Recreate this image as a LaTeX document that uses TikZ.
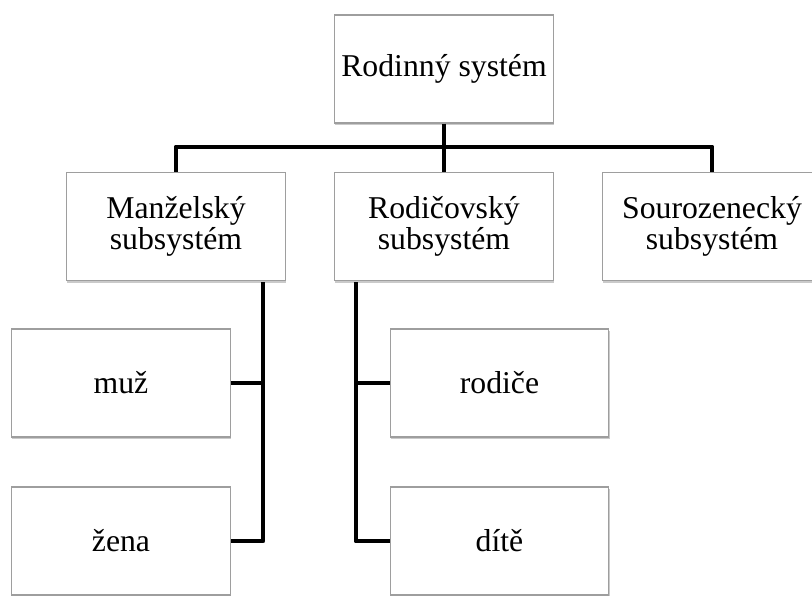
\documentclass[tikz,border=0pt]{standalone}
\usepackage{fontspec}
\setmainfont{Liberation Serif}
\usetikzlibrary{shadows}
\begin{document}
\begin{tikzpicture}[x=0.75pt,y=-0.75pt,
    box/.style={draw=black!38, line width=0.8pt, fill=white, minimum width=164pt, minimum height=81pt,
        align=center, font=\fontsize{23.8}{23.5}\selectfont,
        drop shadow={shadow xshift=0.6pt, shadow yshift=-1.8pt, opacity=0.35, fill=black!60}},
    link/.style={line width=3.7pt, line join=round}]

\useasboundingbox (0,0) rectangle (812,595);

\node [box] (root) at (444,69) {Rodinný systém};
\node [box] (mar) at (176,226.5) {Manželský\\subsystém};
\node [box] (par) at (444,226.5) {Rodičovský\\subsystém};
\node [box] (sib) at (712,226.5) {Sourozenecký\\subsystém};
\node [box] (muz) at (121,383) {muž};
\node [box] (zena) at (121,541) {žena};
\node [box] (rod) at (499.5,383) {rodiče};
\node [box] (dite) at (499.5,541) {dítě};

\coordinate (bar) at (444,147);
\coordinate (spineL) at (263,282);
\coordinate (spineR) at (356,282);

\draw [link] (root.south) -- (par.north);
\draw [link] (mar.north) |- (bar) -| (sib.north);
\draw [link] (spineL) |- (zena.east);
\draw [link] (muz.east) -- (muz.east -| spineL);
\draw [link] (spineR) |- (dite.west);
\draw [link] (rod.west) -- (rod.west -| spineR);

\end{tikzpicture}
\end{document}
